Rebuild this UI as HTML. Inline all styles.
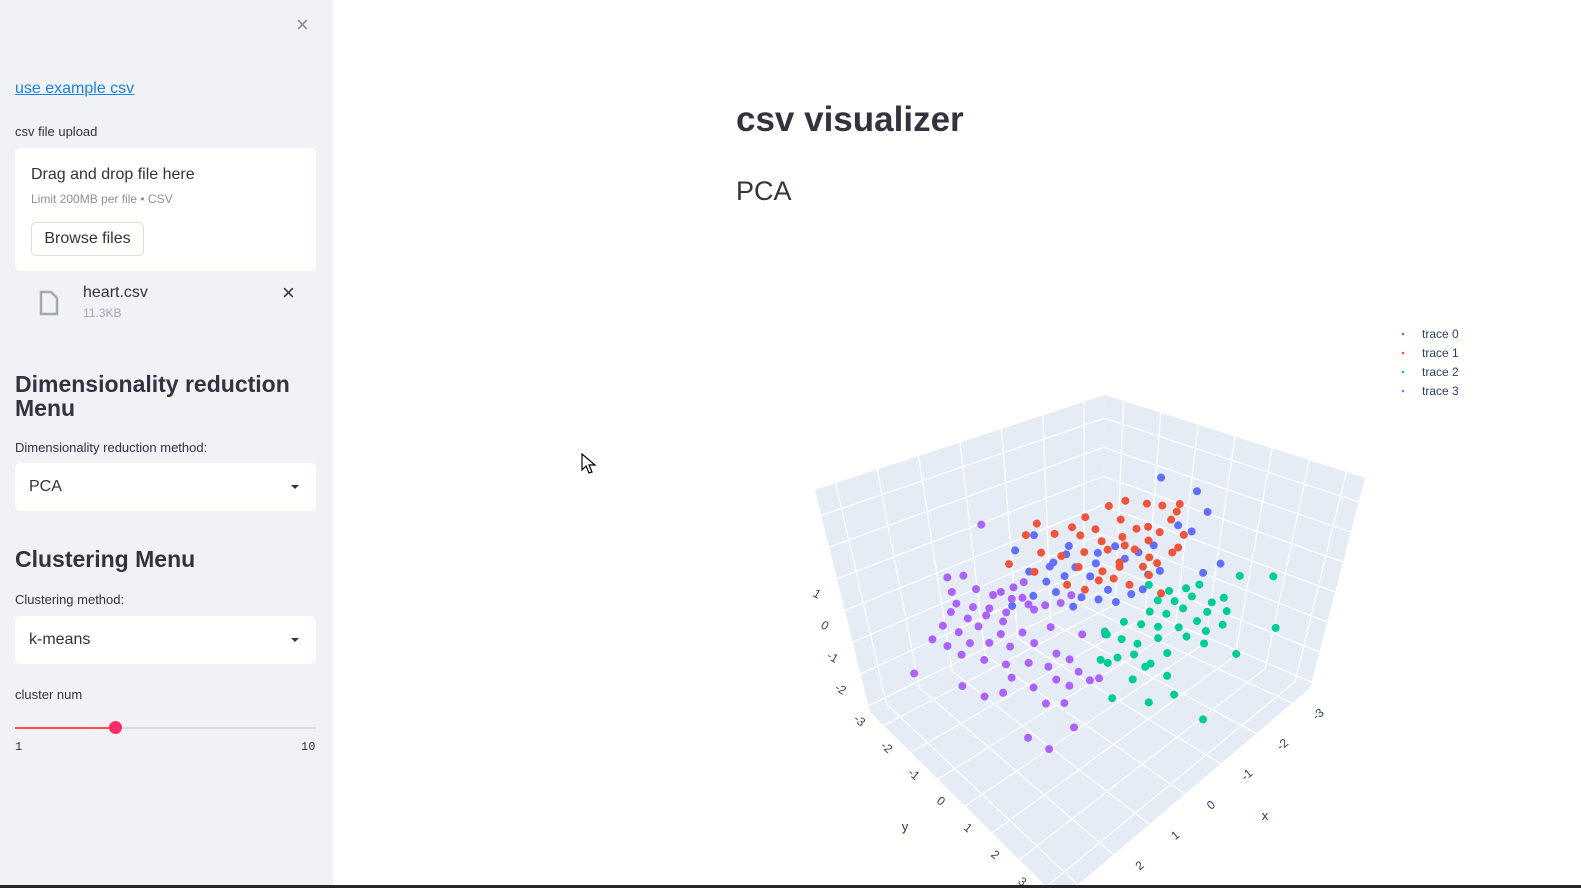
<!DOCTYPE html>
<html><head><meta charset="utf-8">
<style>
*{box-sizing:border-box;margin:0;padding:0}
body{width:1581px;height:888px;overflow:hidden;background:#fffffd;font-family:"Liberation Sans",sans-serif;color:#262730;position:relative}
#sidebar{position:absolute;left:0;top:0;width:333px;height:886px;background:#f0f2f6}
.abs{position:absolute}
.lbl{font-size:13px;color:#31333f}
.box{background:#fffffd;border-radius:5px}
#bottombar{position:absolute;left:0;top:885px;width:1581px;height:3px;background:#262626}
</style></head><body>
<div id="sidebar">
  <div class="abs" style="left:296px;top:12px;font-size:22px;color:#8a8d96">×</div>
  <a class="abs" style="left:15px;top:80px;font-size:16px;color:#1c83e1;text-decoration:underline">use example csv</a>
  <div class="abs lbl" style="left:15px;top:124px">csv file upload</div>
  <div class="abs box" style="left:15px;top:148px;width:301px;height:123px">
    <div class="abs" style="left:16px;top:18px;font-size:16px;color:#31333f">Drag and drop file here</div>
    <div class="abs" style="left:16px;top:44px;font-size:12px;color:#8e9099">Limit 200MB per file • CSV</div>
    <div class="abs" style="left:16px;top:74px;width:113px;height:34px;border:1px solid #dcdde2;border-radius:5px;background:#fffffd;font-size:16px;line-height:32px;text-align:center;color:#31333f">Browse files</div>
  </div>
  <svg class="abs" style="left:38px;top:290px" width="22" height="26"><path d="M3 2h10l6 6v16H3z" fill="none" stroke="#a3a8b4" stroke-width="2.5"/></svg>
  <div class="abs" style="left:83px;top:284px;font-size:16px;color:#31333f">heart.csv</div>
  <div class="abs" style="left:83px;top:306px;font-size:12px;color:#a3a8b4">11.3KB</div>
  <div class="abs" style="left:282px;top:280px;font-size:22px;color:#31333f">×</div>
  <div class="abs" style="left:15px;top:372px;width:300px;font-size:23px;font-weight:bold;line-height:24px;color:#31333f">Dimensionality reduction Menu</div>
  <div class="abs lbl" style="left:15px;top:440px">Dimensionality reduction method:</div>
  <div class="abs box" style="left:15px;top:463px;width:301px;height:48px">
    <div class="abs" style="left:14px;top:15px;font-size:16px;color:#31333f">PCA</div>
    <div class="abs" style="left:276px;top:22px;border-left:4px solid transparent;border-right:4px solid transparent;border-top:4px solid #31333f"></div>
  </div>
  <div class="abs" style="left:15px;top:546px;font-size:23px;font-weight:bold;color:#31333f">Clustering Menu</div>
  <div class="abs lbl" style="left:15px;top:592px">Clustering method:</div>
  <div class="abs box" style="left:15px;top:616px;width:301px;height:48px">
    <div class="abs" style="left:14px;top:15px;font-size:16px;color:#31333f">k-means</div>
    <div class="abs" style="left:276px;top:22px;border-left:4px solid transparent;border-right:4px solid transparent;border-top:4px solid #31333f"></div>
  </div>
  <div class="abs lbl" style="left:15px;top:687px">cluster num</div>
  <div class="abs" style="left:15px;top:727px;width:301px;height:2px;background:#dcdde2"></div>
  <div class="abs" style="left:15px;top:727px;width:101px;height:2px;background:#ff4b4b"></div>
  <div class="abs" style="left:109px;top:721px;width:13px;height:13px;border-radius:50%;background:#ff2b6b"></div>
  <div class="abs" style="left:15px;top:740px;font-size:12px;font-family:'Liberation Mono',monospace;color:#31333f">1</div>
  <div class="abs" style="left:301px;top:740px;font-size:12px;font-family:'Liberation Mono',monospace;color:#31333f">10</div>
</div>
<div class="abs" style="left:736px;top:100px;font-size:35px;font-weight:bold;color:#31333f">csv visualizer</div>
<div class="abs" style="left:736px;top:176px;font-size:27px;color:#31333f">PCA</div>
<svg class="abs" style="left:581px;top:453px" width="16" height="22"><path d="M1 1v16l4-4 3 7 3-1-3-7h6z" fill="#fff" stroke="#000" stroke-width="1.2"/></svg>

<svg id="chart" class="abs" style="left:0;top:0" width="1581" height="885">
  <defs><clipPath id="clip"><rect x="334" y="0" width="1247" height="885"/></clipPath></defs>
  <g id="scene" clip-path="url(#clip)"></g>
  <g id="legend"></g>
</svg>
<div id="bottombar"></div>

<script>
const traceNames = ["trace 0","trace 1","trace 2","trace 3"];
const traceColors = ["#636efa","#ef553b","#00cc96","#ab63fa"];
const xTicks = [-3,-2,-1,0,1,2,3];
const yTicks = [-3,-2,-1,0,1,2,3];
const zTicks = [-3,-2,-1,0,1,2,3];
const zTickLabels = [-2,-1,0,1];
const xRange = [-3.5,3.5], yRange = [-3.5,3.5], zRange = [-3.2,3.8];

const t0x = [-2.70,-2.96,-2.84,-2.65,-2.67,-1.72,-2.13,-0.58,0.09,-0.77,-0.97,-1.36,-1.49,-1.85,-0.14,-0.52,-0.32,-0.68,-1.16,-1.28,0.42,0.01,0.04,-0.29,-0.20,0.53,0.31,0.14,-0.02,-0.39,-0.64,0.93,0.63,0.81,-1.05,1.45,0.42];
const t0y = [-1.00,-0.26,0.22,0.04,-0.38,1.46,1.49,-2.23,-2.02,-1.41,-0.78,-0.72,-0.18,-0.15,-1.14,-1.20,-0.69,-0.50,-0.20,0.70,-1.21,-1.07,-0.59,-0.21,0.43,-0.27,0.24,0.55,0.88,0.90,0.95,-0.48,0.37,1.56,0.62,-0.50,-0.69];
const t0z = [2.5,2.2,1.8,1.2,1.2,1.2,1.2,1.2,1.2,1.2,1.2,1.2,1.2,1.2,1.2,1.2,1.2,1.2,1.2,1.2,1.2,1.2,1.2,1.2,1.2,1.2,1.2,1.2,1.2,1.2,1.2,1.2,1.2,1.2,1.2,1.2,1.2];

const t1x = [-2.14,-2.50,-2.67,-2.79,-2.78,-3.03,-1.52,-1.90,-2.03,-2.49,-0.69,-1.07,-1.32,-1.84,-2.02,-2.22,-0.23,-0.66,-0.96,-1.08,-1.45,-1.67,-1.83,0.01,-0.18,-0.58,-0.94,-1.26,-1.25,-1.64,0.74,0.57,-0.14,-0.34,-0.77,-0.95,-1.20,-0.08,-0.31,-0.36,-0.82,0.43,0.31,-0.54,-1.28,-0.66];
const t1y = [-1.81,-1.74,-1.31,-1.00,-0.57,-0.77,-1.79,-1.19,-0.54,-0.40,-2.26,-1.66,-1.26,-0.66,-0.19,0.28,-2.05,-1.70,-1.29,-0.80,-0.62,-0.11,0.57,-1.32,-0.94,-0.73,-0.46,-0.33,0.40,0.62,-1.42,-0.86,-0.38,0.09,0.09,0.57,0.69,0.29,0.46,0.87,0.90,-0.05,0.34,1.59,-0.06,0.22];
const t1z = [1.5,1.5,1.5,1.5,1.5,1.5,1.5,1.5,1.5,1.5,1.5,1.5,1.5,1.5,1.5,1.5,1.5,1.5,1.5,1.5,1.5,1.5,1.5,1.5,1.5,1.5,1.5,1.5,1.5,1.5,1.5,1.5,1.5,1.5,1.5,1.5,1.5,1.5,1.5,1.5,1.5,1.5,1.5,1.5,1.5,1.5];

const t2x = [-1.51,-1.60,-1.86,-2.10,-1.24,-1.42,-1.73,-1.81,-2.05,-2.75,-3.07,-0.88,-1.03,-1.35,-1.54,-1.77,-0.33,-0.49,-0.64,-0.87,-1.22,-2.50,0.17,0.08,-0.02,-0.39,-0.76,-1.39,-2.02,0.24,-0.03,-0.31,-0.32,-0.75,-1.69,-2.03,0.41,-0.25,0.02,-0.76,-0.45,-0.71,0.13,-0.19,0.21];
const t2y = [0.16,0.67,0.88,1.00,0.75,1.05,1.21,1.72,1.80,1.46,2.09,0.93,1.26,1.39,1.90,2.22,0.79,1.13,1.47,1.83,1.97,2.98,0.86,1.21,1.58,1.77,2.20,2.08,1.91,0.77,0.98,1.17,1.68,1.69,1.78,2.43,1.37,1.24,2.09,1.74,2.34,3.04,0.75,1.67,0.96];
const t2z = [0.3,0.3,0.3,0.3,0.3,0.3,0.3,0.3,0.3,0.3,0.3,0.3,0.3,0.3,0.3,0.3,0.3,0.3,0.3,0.3,0.3,-0.5,0.3,0.3,0.3,0.3,0.3,-0.5,-0.5,-0.5,-0.5,-0.5,-0.5,-0.5,-0.5,-1.2,-1.2,-1.2,-1.2,-1.2,-1.2,-1.8,0.3,-0.5,-0.5];

const t3x = [0.14,1.15,0.85,0.98,0.86,0.67,0.37,0.09,0.67,0.56,1.43,1.63,1.45,1.23,1.07,0.49,0.34,1.91,1.79,1.44,1.32,0.60,2.34,2.23,1.80,1.63,1.28,0.76,2.80,2.70,2.29,1.99,1.76,1.34,1.25,1.19,2.66,2.42,2.19,1.83,1.63,1.32,2.37,2.25,1.78,1.72,1.34,1.18,3.22,2.68,2.54,2.18,1.76,1.49,2.37,2.27,1.51,0.07,-0.26,0.49];
const t3y = [-2.95,-2.95,-2.80,-2.25,-1.86,-1.84,-1.80,-1.81,-1.50,-1.11,-2.48,-2.10,-1.79,-1.54,-1.20,-1.38,-0.85,-1.94,-1.55,-1.39,-1.00,-0.89,-1.68,-1.31,-1.20,-0.70,-0.44,-0.18,-1.46,-1.10,-0.88,-0.63,-0.25,0.00,0.59,0.93,-0.70,-0.27,0.14,0.42,0.80,1.37,0.54,1.09,1.23,1.57,1.75,1.84,-1.71,-0.77,-0.21,-0.04,0.85,1.12,0.99,1.57,1.46,-0.69,-0.75,0.48];
const t3z = [1.5,0.3,0.3,0.3,0.3,0.3,0.3,0.3,0.3,0.3,0.3,0.3,0.3,0.3,0.3,0.3,0.3,0.3,0.3,0.3,0.3,0.3,0.3,0.3,0.3,0.3,0.3,0.3,0.3,0.3,0.3,0.3,0.3,0.3,0.3,0.3,0.3,0.3,0.3,0.3,0.3,0.3,0.3,0.3,0.3,0.3,0.3,0.3,-0.7,-0.7,-0.7,-0.7,-0.7,-0.7,-1.2,-1.2,-1.2,0.3,0.3,0.3];

const NS = "http://www.w3.org/2000/svg";
const C = {
  "000":[1100,598],"100":[870,712],"010":[1310,688],"110":[1060,900],
  "001":[1105,395],"101":[815,490],"011":[1365,478],"111":[1060,655]
};
function lerp(a,b,t){return a+(b-a)*t;}
function proj(x,y,z){
  const u=(x-xRange[0])/(xRange[1]-xRange[0]);
  const v=(y-yRange[0])/(yRange[1]-yRange[0]);
  const w=(z-zRange[0])/(zRange[1]-zRange[0]);
  const out=[0,0];
  for(let k=0;k<2;k++){
    const c00=lerp(C["000"][k],C["100"][k],u), c10=lerp(C["010"][k],C["110"][k],u);
    const c01=lerp(C["001"][k],C["101"][k],u), c11=lerp(C["011"][k],C["111"][k],u);
    out[k]=lerp(lerp(c00,c10,v),lerp(c01,c11,v),w);
  }
  return out;
}
const scene=document.getElementById('scene');
function poly(pts,fill,name){
  const p=document.createElementNS(NS,'polygon');
  p.setAttribute('points',pts.map(q=>q.join(',')).join(' '));
  p.setAttribute('fill',fill);
  
  
  scene.appendChild(p);
}
function line(a,b,name){
  const l=document.createElementNS(NS,'line');
  l.setAttribute('x1',a[0]);l.setAttribute('y1',a[1]);l.setAttribute('x2',b[0]);l.setAttribute('y2',b[1]);
  l.setAttribute('stroke','#ffffff');l.setAttribute('stroke-width','1.3');
  
  
  scene.appendChild(l);
}
function text(x,y,s,name,size,anchor){
  const t=document.createElementNS(NS,'text');
  t.setAttribute('x',x);t.setAttribute('y',y);t.textContent=s;
  t.setAttribute('font-size',size||12);t.setAttribute('fill','#2a3f5f');
  t.setAttribute('text-anchor',anchor||'middle');
  t.setAttribute('font-family','Liberation Sans, sans-serif');
  
  
  scene.appendChild(t);
  return t;
}
const [x0,x1]=xRange,[y0,y1]=yRange,[z0,z1]=zRange;
const bg="#e5ecf6";
poly([proj(x0,y0,z0),proj(x1,y0,z0),proj(x1,y0,z1),proj(x0,y0,z1)],bg,'back-left-wall');
poly([proj(x0,y0,z0),proj(x0,y1,z0),proj(x0,y1,z1),proj(x0,y0,z1)],bg,'back-right-wall');
poly([proj(x0,y0,z0),proj(x1,y0,z0),proj(x1,y1,z0),proj(x0,y1,z0)],bg,'floor');
xTicks.forEach(t=>{line(proj(t,y0,z0),proj(t,y1,z0),'floor-gridline-x');line(proj(t,y0,z0),proj(t,y0,z1),'wall-gridline-x');});
yTicks.forEach(t=>{line(proj(x0,t,z0),proj(x1,t,z0),'floor-gridline-y');line(proj(x0,t,z0),proj(x0,t,z1),'wall-gridline-y');});
zTicks.forEach(t=>{line(proj(x0,y0,t),proj(x1,y0,t),'wall-gridline-z');line(proj(x0,y0,t),proj(x0,y1,t),'wall-gridline-z');});
xTicks.forEach(t=>{const p=proj(t,y1,z0);const e=text(p[0]+26,p[1]+15,String(t),'x-tick-label');e.setAttribute('transform','rotate(-40 '+(p[0]+26)+' '+(p[1]+11)+')');});
yTicks.forEach(t=>{const p=proj(x1,t,z0);const e=text(p[0]-24,p[1]-1,String(t),'y-tick-label');e.setAttribute('transform','rotate(40 '+(p[0]-24)+' '+(p[1]-5)+')');});
zTickLabels.forEach(t=>{const p=proj(x1,y0,t);const e=text(p[0]-20,p[1]+19,String(t),'z-tick-label');e.setAttribute('transform','rotate(30 '+(p[0]-20)+' '+(p[1]+15)+')');});
text(1265,820,'x','x-axis-title',13);
text(905,831,'y','y-axis-title',13);
const traces=[[t0x,t0y,t0z],[t1x,t1y,t1z],[t2x,t2y,t2z],[t3x,t3y,t3z]];
traces.forEach((tr,i)=>{
  const g=document.createElementNS(NS,'g');
  
  
  tr[0].forEach((xv,j)=>{
    const p=proj(xv,tr[1][j],tr[2][j]);
    const c=document.createElementNS(NS,'circle');
    c.setAttribute('cx',p[0]);c.setAttribute('cy',p[1]);c.setAttribute('r',4);
    c.setAttribute('fill',traceColors[i]);
    
    
    g.appendChild(c);
  });
  scene.appendChild(g);
});
const lg=document.getElementById('legend');
traceNames.forEach((n,i)=>{
  const y=334+i*19;
  const g=document.createElementNS(NS,'g');
  
  
  const c=document.createElementNS(NS,'circle');
  c.setAttribute('cx',1403);c.setAttribute('cy',y);c.setAttribute('r',1.3);c.setAttribute('fill',traceColors[i]);
  const t=document.createElementNS(NS,'text');
  t.setAttribute('x',1422);t.setAttribute('y',y+4);t.setAttribute('font-size',12);t.setAttribute('fill','#2a3f5f');
  t.setAttribute('font-family','Liberation Sans, sans-serif');t.textContent=n;
  g.appendChild(c);g.appendChild(t);lg.appendChild(g);
});
</script>
</body></html>
